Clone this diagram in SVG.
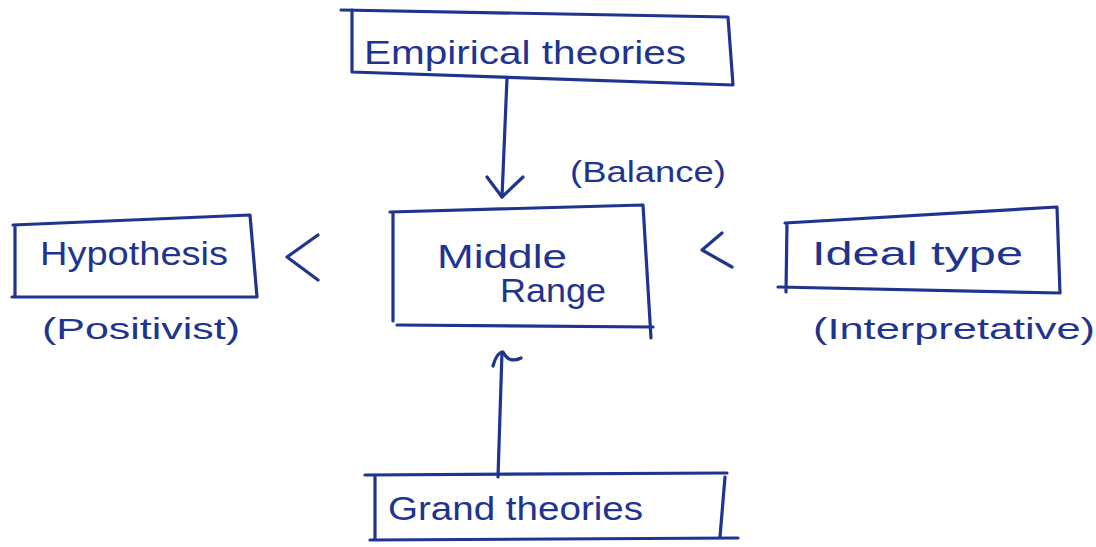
<svg xmlns="http://www.w3.org/2000/svg" width="1096" height="547" viewBox="0 0 1096 547">
  <style>
    .ink { fill: none; stroke: #1f348f; stroke-width: 3.2; stroke-linecap: round; stroke-linejoin: round; }
    .lbl { fill: #1f348f; font-family: "Liberation Sans", "DejaVu Sans", sans-serif; font-size: 34px; }
    .sub { fill: #1f348f; font-family: "Liberation Sans", "DejaVu Sans", sans-serif; font-size: 30px; }
  </style>
  <rect width="1096" height="547" fill="#ffffff"/>

  <!-- Top node -->
  <g id="node-empirical">
    <path class="ink" d="M341,10 L728,17 L733,85 L352,72 L352,10"/>
    <text class="lbl" x="364" y="64" textLength="322" lengthAdjust="spacingAndGlyphs">Empirical theories</text>
  </g>

  <!-- Centre node -->
  <g id="node-middle">
    <path class="ink" d="M390,212 L643,205 L651,338 M397,325 L653,327 M393,212 L393,321"/>
    <text class="lbl" x="437" y="268" textLength="130" lengthAdjust="spacingAndGlyphs">Middle</text>
    <text class="lbl" x="500" y="302" textLength="106" lengthAdjust="spacingAndGlyphs">Range</text>
  </g>

  <!-- Left node -->
  <g id="node-hypothesis">
    <path class="ink" d="M13,225 L250,215 L257,297 L12,297 M15,225 L15,297"/>
    <text class="lbl" x="40" y="265" textLength="188" lengthAdjust="spacingAndGlyphs">Hypothesis</text>
    <text class="sub" x="42" y="339" textLength="198" lengthAdjust="spacingAndGlyphs">(Positivist)</text>
  </g>

  <!-- Right node -->
  <g id="node-ideal">
    <path class="ink" d="M785,223 L1057,207 L1060,293 L778,287 M787,223 L786,292"/>
    <text class="lbl" x="812" y="265" textLength="211" lengthAdjust="spacingAndGlyphs">Ideal type</text>
    <text class="sub" x="813" y="339" textLength="282" lengthAdjust="spacingAndGlyphs">(Interpretative)</text>
  </g>

  <!-- Bottom node -->
  <g id="node-grand">
    <path class="ink" d="M365,475 L727,473 M725,477 L720,537 M370,540 L738,538 M375,475 L375,540"/>
    <text class="lbl" x="388" y="520" textLength="255" lengthAdjust="spacingAndGlyphs">Grand theories</text>
  </g>

  <!-- Side note -->
  <g id="note-balance">
    <text class="sub" x="570" y="182" textLength="156" lengthAdjust="spacingAndGlyphs">(Balance)</text>
  </g>

  <!-- Connectors -->
  <g id="connectors">
    <path class="ink" d="M507,78 L502,197"/>
    <path class="ink" d="M487,177 L502,197 L523,177"/>
    <path class="ink" d="M498,477 L502,352"/>
    <path class="ink" d="M493,366 Q497,352 503,352 Q509,364 521,358"/>
    <path class="ink" d="M318,235 L287,257 L318,280"/>
    <path class="ink" d="M722,233 L702,250 L732,267"/>
  </g>
</svg>
